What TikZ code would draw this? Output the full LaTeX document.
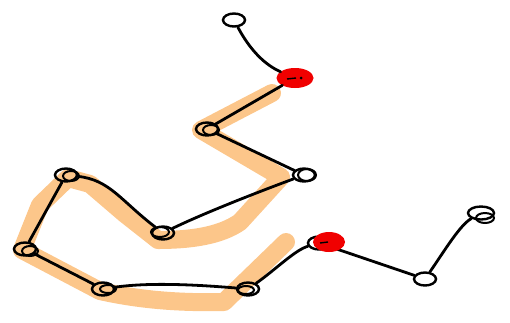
\documentclass[tikz,border=0pt]{standalone}
\usetikzlibrary{shapes.geometric}
\definecolor{band}{RGB}{252,198,138}
\definecolor{blob}{RGB}{240,0,0}
\tikzset{
  joint/.style={draw=black, ellipse, line width=2.4pt, minimum width=22pt, minimum height=13pt, inner sep=0pt},
  redjoint/.style={draw=blob, fill=blob, ellipse, line width=1pt, minimum width=36pt, minimum height=19pt, inner sep=0pt},
  link/.style={draw=black, line width=2.8pt, line cap=round, line join=round},
  stroke/.style={draw=black, line width=2pt},
  track/.style={draw=band, line width=18pt, line cap=round, line join=round},
}
\begin{document}
\begin{tikzpicture}[x=1pt,y=-1pt]
\useasboundingbox (0,0) rectangle (510,322);

% highlighted track behind the chain
\draw[track] (272,93) -- (201,130) -- (281,177) -- (240,222)
  .. controls (220,236) and (190,240) .. (158,240)
  -- (125,214) -- (90,184) -- (68,178) -- (40,205) -- (22,250)
  -- (100,291) .. controls (140,300) and (180,303) .. (224,302) -- (286,242);

% joints
\node[joint] (n1) at (234,20) {};
\node[redjoint] (n2) at (295,78) {};
\node[joint] (n3) at (207,129) {};
\node[joint] (n4) at (304,175) {};
\node[joint] (n5) at (163,233) {};
\node[joint] (n6) at (66,175) {};
\node[joint] (n7) at (25,249) {};
\node[joint] (n8) at (103,289) {};
\node[joint] (n9) at (248,289) {};
\node[joint] (n10) at (319,243) {};
\node[joint] (n11) at (425,279) {};
\node[joint, minimum width=26pt, minimum height=13pt] (n12) at (481,213) {};

% links
\draw[link] (n1) .. controls (250,50) and (265,65) .. (n2);
\draw[link] (n2) -- (n3);
\draw[link] (n3) -- (n4);
\draw[link] (n4) .. controls (250,195) and (200,215) .. (n5);
\draw[link] (n5) .. controls (120,200) and (110,180) .. (n6);
\draw[link] (n6) -- (n7);
\draw[link] (n7) -- (n8);
\draw[link] (n8) .. controls (150,282) and (200,285) .. (n9);
\draw[link] (n9) .. controls (275,270) and (295,250) .. (n10);
\draw[link] (n10) -- (n11);
\draw[link] (n11) .. controls (445,250) and (460,225) .. (n12);

% second pencil strokes on the joints
\draw[stroke] ([xshift=4pt,yshift=-1pt]n3.center) ellipse (8pt and 5pt);
\draw[stroke] ([xshift=3pt]n4.center) ellipse (9pt and 6pt);
\draw[stroke] ([xshift=-3pt,yshift=1pt]n5.center) ellipse (9pt and 5pt);
\draw[stroke] ([xshift=5pt,yshift=-1pt]n6.center) ellipse (8pt and 5pt);
\draw[stroke] ([xshift=5pt,yshift=-2pt]n7.center) ellipse (8pt and 5pt);
\draw[stroke] ([xshift=5pt]n8.center) ellipse (8pt and 4pt);
\draw[stroke] ([xshift=-2pt,yshift=-1pt]n9.center) ellipse (8pt and 4pt);
\draw[stroke] ([xshift=4pt,yshift=-5pt]n12.center) ellipse (9pt and 5pt);

% red markers
\fill[blob] (329,242) ellipse (16pt and 10pt);
\draw[black, line width=1.4pt] (320,243) -- (328,242);
\draw[black, line width=1.4pt] (287,79) -- (296,78);
\fill[black] (301,78) circle (1.5pt);
\end{tikzpicture}
\end{document}
